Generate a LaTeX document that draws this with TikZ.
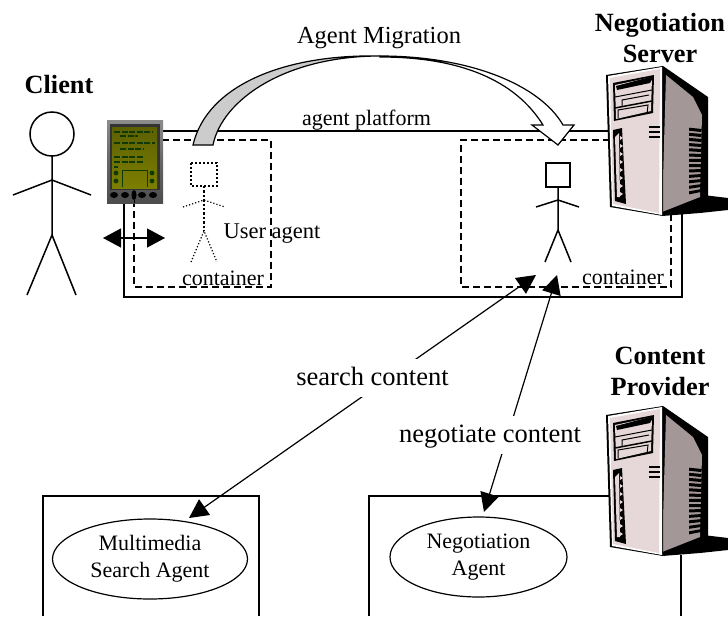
\documentclass[tikz,border=0pt]{standalone}
\usepackage{fontspec}
\setmainfont{Liberation Serif}
\usetikzlibrary{arrows.meta,shapes.geometric}
\definecolor{srvfront}{HTML}{E6D8D8}
\definecolor{srvside}{HTML}{A39797}
\definecolor{migr}{HTML}{CCCCCC}
\definecolor{lcdtop}{HTML}{5C6000}
\definecolor{lcdbot}{HTML}{7C7E00}
\definecolor{lcdink}{HTML}{0F3A08}
\tikzset{
 fig/.style={line width=1.5pt},
 platform/.style={line width=1.5pt,line cap=rect},
 contbox/.style={line width=1.5pt,dash pattern=on 7pt off 4pt},
 txt/.style={anchor=base,inner sep=0pt,font=\fontsize{22}{26}\selectfont},
 bigtxt/.style={anchor=base,inner sep=0pt,font=\bfseries\fontsize{26.3}{30}\selectfont},
 cut/.style={anchor=base,inner sep=0pt,fill=white,text height=26pt,text depth=12pt,font=\fontsize{26.5}{30}\selectfont},
 agentell/.style={draw,ellipse,line width=1.2pt,inner sep=0pt,align=center,font=\fontsize{22}{27}\selectfont},
 conn/.style={line width=1.2pt,{Triangle[length=19pt,width=19pt]}-{Triangle[length=19pt,width=19pt]}},
 servericon/.pic={
  % shadow
  \fill[black] (695,196)--(703,195)--(728,198)--(728,210)--(700,213)--(662,216)--cycle;
  % side
  \fill[black] (663,66)--(708,97)--(708,200)--(662,216)--cycle;
  \fill[srvside] (666,75)--(693,97)--(702,115)--(700,197)--(662,212)--cycle;
  % front
  \fill[black] (606,75)--(663,66)--(663,216)--(610,207)--cycle;
  \fill[white] (608,76)--(662,67)--(662,215)--(612,206)--cycle;
  \fill[srvfront] (610,78)--(660,69)--(659,213)--(613,204)--cycle;
  % drive panel
  \fill[black] (613,83)--(654,75)--(653,113)--(614,121)--cycle;
  \fill[srvfront] (615,85)--(652,77)--(651,111)--(616,119)--cycle;
  \fill[black] (616,86)--(654,76)--(650,83)--(617,90)--cycle;
  \draw[black,line width=1pt] (615,97)--(652,90);
  \draw[black,line width=1pt] (622,106)--(622,100)--(649,95);
  \draw[black,line width=1.5pt] (615,108)--(652,101);
  \draw[black,line width=1pt] (618,118)--(618,110)--(648,105)--(647,114);
  % left slot
  \fill[black] (613,130)--(622,128)--(626,204)--(615,201)--cycle;
  \fill[srvfront] (615,137)--(619,133)--(620,197)--(617,197)--cycle;
  \foreach \k in {0,...,7} {\fill[srvfront] (620,{136+\k*8})--(623,{138+\k*8})--(620,{140+\k*8})--cycle;}
  % small vents
  \foreach \k in {0,1,2} {\draw[black,line width=1.5pt] (649,{127+\k*5})--(660,{127+\k*5});}
  % side vents
  \foreach \k in {0,...,12} {\fill[black] (689,{127+\k*5.3+(\k-6)*(\k-6)*0.02})--(702,{129-\k*0.1+\k*5.1})--(701,{132-\k*0.1+\k*5.1})--(689,{130+\k*5.3+(\k-6)*(\k-6)*0.02})--cycle;}
 }
}
\begin{document}
\begin{tikzpicture}[x=1pt,y=-1pt]
\useasboundingbox (0,0) rectangle (728,616);
% platform and containers
\draw[platform] (124,203)--(124,297)--(682,297)--(682,212);
\draw[platform] (160,131)--(610,131);
\draw[contbox] (134,200)--(134,287)--(271,287)--(271,140)--(160,140);
\draw[contbox] (610,140)--(461,140)--(461,287)--(671,287)--(671,212);
% client
\draw[fig] (52,134) circle[radius=22];
\draw[fig] (52,156)--(52,235) (13,195)--(52,180)--(91,195) (27,295)--(52,235)--(76,295);
% user agent (dotted)
\draw[line width=2pt,dotted] (191,163) rectangle (217,186);
\draw[line width=2.4pt,dotted] (204,186)--(204,231);
\draw[line width=1.2pt,dotted] (183,207)--(204,200)--(225,207) (191,262)--(204,231)--(217,262);
% server agent
\draw[fig] (546,163) rectangle (570,187);
\draw[fig] (558,187)--(558,230) (536,207)--(558,200)--(579,207) (545,262)--(558,230)--(571,262);
% double arrow
\coordinate (dblL) at (103,238);
\coordinate (dblR) at (165,238);
\draw[line width=1.2pt,{Triangle[length=18pt,width=19pt]}-{Triangle[length=18pt,width=19pt]}] (dblL)--(dblR);
% migration arrow
\draw[line width=1.2pt,fill=white,line join=miter] (380,56) .. controls (470,56) and (540,85) .. (563,125) -- (574,125) -- (558,145) -- (532,125) -- (543,125) .. controls (515,80) and (460,57) .. (380,57) -- cycle;
\draw[line width=1.2pt,fill=migr] (193,145) .. controls (207,85) and (285,54) .. (380,56) .. controls (285,56) and (222,100) .. (213,145) -- cycle;
% PDA
\shade[top color=black!45,bottom color=black!70,middle color=black!60] (107,120) rectangle (163,203);
\fill[black!80] (110,124) rectangle (160,190);
\shade[top color=lcdtop,bottom color=lcdbot] (112,127) rectangle (157,188);
\foreach \y/\a/\b in {132/114/153,136/120/138,143/114/155,149/120/143,157/114/144,162/114/144,167/114/118}{
 \draw[lcdink,line width=1.6pt,dash pattern=on 6pt off 1.5pt] (\a,\y)--(\b,\y);}
\foreach \p in {(116,173),(116,181),(152,173),(152,181)} {\fill[lcdink] \p circle[radius=2.4];}
\draw[lcdink,line width=1pt] (122,187)--(122,170)--(147,170)--(147,187);
\foreach \x in {114,125,142,153} {\fill[black] (\x,195) ellipse[x radius=4,y radius=3];}
\fill[black] (134,195) ellipse[x radius=2.5,y radius=5];
\fill[black] (133.5,200) rectangle (135,203);
% servers
\pic at (0,0) {servericon};
\pic at (0,340) {servericon};
\draw[line width=1.2pt] (681,555)--(681,616);
% bottom boxes
\draw[line width=1.2pt] (43,616)--(43,496)--(259,496)--(259,616);
\draw[line width=1.2pt] (369,616)--(369,496)--(609,496);
\node[agentell,minimum width=195pt,minimum height=80pt] (msa) at (150,559) {\raisebox{-2pt}{Multimedia}\\\raisebox{-2pt}{Search Agent}};
\node[agentell,minimum width=177pt,minimum height=80pt] (neg) at (478.5,557) {\raisebox{-2pt}{Negotiation}\\\raisebox{-2pt}{Agent}};
% connectors
\coordinate (sTop) at (536,275);
\coordinate (sBot) at (189,518);
\coordinate (nTop) at (557,275);
\coordinate (nBot) at (484,512);
\draw[conn] (sBot)--(sTop);
\draw[conn] (nBot)--(nTop);
\node[cut] (searchlbl) at (372.5,385) {search content};
\node[cut] (negotlbl) at (490,442) {negotiate content};
% labels
\node[txt,font=\fontsize{24.5}{28}\selectfont] (mig) at (379,43) {Agent Migration};
\node[txt] (plat) at (366.5,125) {agent platform};
\node[txt] (c1) at (223,285) {container};
\node[txt] (c2) at (623,284) {container};
\node[txt,font=\fontsize{22.5}{26}\selectfont] (ua) at (272,238) {User agent};
\node[bigtxt] (client) at (59,93) {Client};
\node[bigtxt] (ns1) at (660,31) {Negotiation};
\node[bigtxt] (ns2) at (660,62) {Server};
\node[bigtxt] (cp1) at (660,364) {Content};
\node[bigtxt] (cp2) at (660,395) {Provider};
\end{tikzpicture}
\end{document}
